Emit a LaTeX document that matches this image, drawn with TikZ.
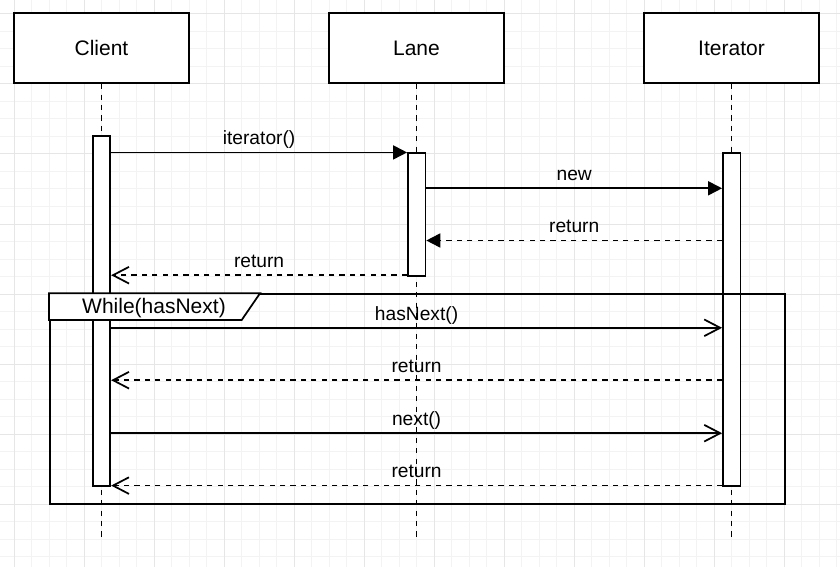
\documentclass[tikz,border=0pt]{standalone}
\usepackage{fontspec}
\setmainfont{Liberation Sans}
\usetikzlibrary{arrows.meta}
\definecolor{gmin}{HTML}{F3F3F3}
\definecolor{gmaj}{HTML}{E6E6E6}
\definecolor{ink}{HTML}{000000}
\begin{document}
\begin{tikzpicture}[x=0.75pt,y=-0.75pt,
  lw/.style={line width=1.3pt, draw=ink},
  headbox/.style={draw=ink, line width=1.3pt, fill=white, minimum width=131.25pt, minimum height=52.5pt, inner sep=0pt, font=\fontsize{15.75}{18}\selectfont},
  actbox/.style={draw=ink, line width=1.3pt, fill=white, minimum width=13.125pt, inner sep=0pt},
  lifeline/.style={lw, dash pattern=on 3.9pt off 3.9pt},
  call/.style={lw, -{Triangle[length=10.5pt,width=10.5pt]}},
  callret/.style={lw, dash pattern=on 3.9pt off 3.9pt, -{Triangle[length=10.5pt,width=10.5pt]}},
  ocall/.style={lw, -{Straight Barb[length=12pt,width=12.5pt]}},
  oret/.style={lw, dash pattern=on 3.9pt off 3.9pt, -{Straight Barb[length=12pt,width=12.5pt]}},
  lbl/.style={font=\fontsize{14.4}{17}\selectfont, inner sep=0pt, anchor=base, yshift=5.85pt},
]
\useasboundingbox (0,0) rectangle (840,567);
\fill[white] (0,0) rectangle (840,567);
% grid
\foreach \i in {0,...,48} { \draw[gmin, line width=0.75pt] ({-3.5+17.5*\i},0) -- ({-3.5+17.5*\i},567); }
\foreach \i in {0,...,33} { \draw[gmin, line width=0.75pt] (0,{-3.5+17.5*\i}) -- (840,{-3.5+17.5*\i}); }
\foreach \i in {0,...,11} { \draw[gmaj, line width=0.75pt] ({14+70*\i},0) -- ({14+70*\i},567); }
\foreach \i in {0,...,7} { \draw[gmaj, line width=0.75pt] (0,{14+70*\i}) -- (840,{14+70*\i}); }

% heads
\node[headbox] (client) at (101.5,48.3) {Client};
\node[headbox] (lane) at (416.5,48.3) {Lane};
\node[headbox] (iter) at (731.5,48.3) {Iterator};

\coordinate (bot) at (0,537.7);
\draw[lifeline] (client.south) -- (client.south |- bot);
\draw[lifeline] (lane.south) -- (lane.south |- bot);
\draw[lifeline] (iter.south) -- (iter.south |- bot);

% activations
\node[actbox, minimum height=262.5pt] (cact) at (101.5,310.7) {};
\node[actbox, minimum height=91.8pt] (lact) at (416.7,214.5) {};
\node[actbox, minimum height=249.3pt] (iact) at (731.7,319.5) {};

% message rows
\coordinate (m2) at (0,188.3);
\coordinate (m3) at (0,240.5);
\coordinate (m4) at (0,275.2);
\coordinate (m5) at (0,327.8);
\coordinate (m6) at (0,380.2);
\coordinate (m7) at (0,433.2);
\coordinate (m8) at (0,485.6);

\draw[call] (cact.east |- lact.north) -- (lact.north west) node[lbl, midway] {iterator()};
\draw[call] (lact.east |- m2) -- (iact.west |- m2) node[lbl, midway] {new};
\draw[callret] (iact.west |- m3) -- (lact.east |- m3) node[lbl, midway] {return};
\draw[oret] (lact.west |- m4) -- (cact.east |- m4) node[lbl, midway] {return};

% loop frame
\node[draw=ink, line width=1.3pt, minimum width=551.25pt, minimum height=157.5pt, inner sep=0pt, anchor=north west] (loop) at (49,293.3) {};
\draw[lw, fill=white] (loop.north west) -- ++(211,0) -- ++(-18.3,26.7) -- ++(-192.7,0) -- cycle;
\node[font=\fontsize{15.75}{18}\selectfont, inner sep=0pt, anchor=base] (looplbl) at (154,313.3) {While(hasNext)};

\draw[ocall] (cact.east |- m5) -- (iact.west |- m5) node[lbl, midway] {hasNext()};
\draw[oret] (iact.west |- m6) -- (cact.east |- m6) node[lbl, midway] {return};
\draw[ocall] (cact.east |- m7) -- (iact.west |- m7) node[lbl, midway] {next()};
\draw[oret] (iact.west |- m8) -- (cact.east |- m8) node[lbl, midway] {return};
\end{tikzpicture}
\end{document}
